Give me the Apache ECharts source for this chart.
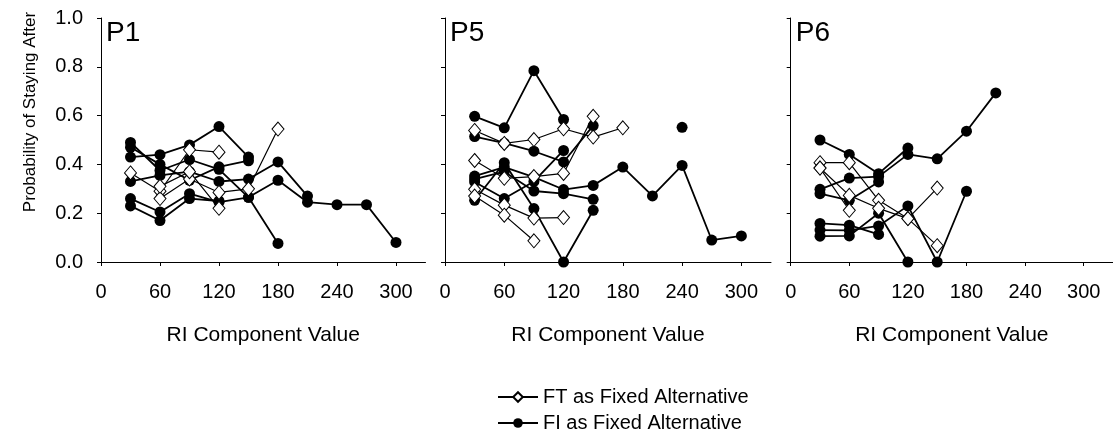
<!DOCTYPE html>
<html>
<head>
<meta charset="utf-8">
<title>Probability of Staying After</title>
<script src="https://cdn.jsdelivr.net/npm/echarts@6/dist/echarts.min.js"></script>
<style>
  html, body { margin: 0; padding: 0; background: #fff; }
  #main { width: 1113px; height: 437px; }
</style>
</head>
<body>
<div id="main"></div>
<script>
// tick labels
var xTicks = [0, 60, 120, 180, 240, 300];
var panelNames = ['P1', 'P5', 'P6'];

// P1 — FT (open diamonds) and FI (filled circles), each row is [RI value, probability]
var p1FT = [
  [[30, 0.365], [60, 0.29], [90, 0.46], [120, 0.45]],
  [[60, 0.26], [90, 0.34], [120, 0.285], [150, 0.30], [180, 0.545]],
  [[60, 0.31], [90, 0.37], [120, 0.22]]
];
var p1FI = [
  [[30, 0.43], [60, 0.44], [90, 0.48], [120, 0.555], [150, 0.43]],
  [[30, 0.49], [60, 0.375], [90, 0.42], [120, 0.38], [150, 0.265], [180, 0.076]],
  [[30, 0.47], [60, 0.40], [90, 0.335], [120, 0.39], [150, 0.415]],
  [[30, 0.33], [60, 0.355], [90, 0.37], [120, 0.33], [150, 0.34], [180, 0.41], [210, 0.27]],
  [[30, 0.26], [60, 0.205], [90, 0.28], [120, 0.245], [150, 0.265], [180, 0.335], [210, 0.245], [240, 0.235], [270, 0.235], [300, 0.08]],
  [[30, 0.23], [60, 0.17], [90, 0.26], [120, 0.25]]
];

// P5
var p5FT = [
  [[30, 0.539], [60, 0.486], [90, 0.502], [120, 0.546], [150, 0.512], [180, 0.55]],
  [[30, 0.416], [60, 0.343], [90, 0.35], [120, 0.363], [150, 0.597]],
  [[30, 0.298], [60, 0.233], [90, 0.18], [120, 0.182]],
  [[30, 0.27], [60, 0.192], [90, 0.087]]
];
var p5FI = [
  [[30, 0.597], [60, 0.55], [90, 0.784], [120, 0.584]],
  [[30, 0.514], [60, 0.487], [90, 0.454], [120, 0.41], [150, 0.559]],
  [[30, 0.352], [60, 0.389], [90, 0.348], [120, 0.297], [150, 0.314], [180, 0.389], [210, 0.271], [240, 0.396], [270, 0.09], [300, 0.107]],
  [[30, 0.328], [60, 0.26], [90, 0.33], [120, 0.457]],
  [[30, 0.253], [60, 0.407], [90, 0.219], [120, 0.0], [150, 0.212]],
  [[30, 0.34], [60, 0.37], [90, 0.291], [120, 0.28], [150, 0.257]],
  [[240, 0.552]]
];

// P6
var p6FT = [
  [[30, 0.407], [60, 0.407], [90, 0.253], [120, 0.178], [150, 0.067]],
  [[30, 0.385], [60, 0.273], [90, 0.22], [120, 0.178], [150, 0.303]],
  [[30, 0.385], [60, 0.212]]
];
var p6FI = [
  [[30, 0.5], [60, 0.441], [90, 0.362], [120, 0.467]],
  [[30, 0.298], [60, 0.344], [90, 0.35], [120, 0.441], [150, 0.423], [180, 0.536], [210, 0.693]],
  [[30, 0.28], [60, 0.253], [90, 0.328]],
  [[30, 0.131], [60, 0.13], [90, 0.148], [120, 0.23], [150, 0.0], [180, 0.29]],
  [[30, 0.106], [60, 0.107], [90, 0.2], [120, 0.0]],
  [[30, 0.158], [60, 0.151], [90, 0.113]]
];

var FT_NAME = 'FT as Fixed Alternative';
var FI_NAME = 'FI as Fixed Alternative';
var font = 'Liberation Sans, Arial, sans-serif';

var myChart = echarts.init(document.getElementById('main'), null, { renderer: 'canvas' });

var panels = [[p1FT, p1FI], [p5FT, p5FI], [p6FT, p6FI]];
var series = [];
panels.forEach(function (p, i) {
  p[0].forEach(function (d) {
    series.push({
      name: FT_NAME, type: 'line', xAxisIndex: i, yAxisIndex: i, data: d,
      symbol: 'diamond', symbolSize: [12, 14], z: 3,
      lineStyle: { color: '#000', width: 1.2 },
      itemStyle: { color: '#fff', borderColor: '#000', borderWidth: 1 }
    });
  });
  p[1].forEach(function (d) {
    series.push({
      name: FI_NAME, type: 'line', xAxisIndex: i, yAxisIndex: i, data: d,
      symbol: 'circle', symbolSize: 11, z: 2,
      lineStyle: { color: '#000', width: 1.8 },
      itemStyle: { color: '#000', borderColor: '#000', borderWidth: 0 }
    });
  });
});

var grids = [
  { left: 101, top: 18, width: 324.5, height: 244 },
  { left: 445, top: 18, width: 326, height: 244 },
  { left: 790.7, top: 18, width: 326, height: 244 }
];

var xAxes = grids.map(function (g, i) {
  return {
    type: 'value', gridIndex: i, min: 0, max: 330,
    name: 'RI Component Value', nameLocation: 'middle', nameGap: 63,
    nameTextStyle: { color: '#000', fontSize: 21, fontFamily: font },
    axisLine: { lineStyle: { color: '#000', width: 1 } },
    axisTick: { show: true, length: 4, customValues: xTicks, lineStyle: { color: '#000' } },
    axisLabel: { customValues: xTicks, color: '#000', fontSize: 20, fontFamily: font, margin: 20 },
    splitLine: { show: false }
  };
});

var yAxes = grids.map(function (g, i) {
  return {
    type: 'value', gridIndex: i, min: 0, max: 1, interval: 0.2,
    name: i === 0 ? 'Probability of Staying After' : '',
    nameLocation: 'middle', nameGap: 62,
    nameTextStyle: { color: '#000', fontSize: 17, fontFamily: font, padding: [0, 0, 0, 56] },
    axisLine: { show: true, lineStyle: { color: '#000', width: 1 } },
    axisTick: { show: true, length: 4, lineStyle: { color: '#000' } },
    axisLabel: {
      show: i === 0, color: '#000', fontSize: 20, fontFamily: font, margin: 18,
      formatter: function (v) { return v.toFixed(1); }
    },
    splitLine: { show: false }
  };
});

var titles = panelNames.map(function (t, i) {
  return {
    text: t, left: grids[i].left + 5, top: 19, padding: 0,
    textStyle: { color: '#000', fontSize: 28, fontWeight: 'normal', fontFamily: font }
  };
});

myChart.setOption({
  animation: false,
  backgroundColor: '#fff',
  title: titles,
  legend: {
    data: [FT_NAME, FI_NAME], orient: 'vertical', left: 497, top: 387, padding: 0,
    height: 60, itemWidth: 40, itemHeight: 12, itemGap: 6, selectedMode: false,
    textStyle: { color: '#000', fontSize: 20, fontFamily: font }
  },
  grid: grids,
  xAxis: xAxes,
  yAxis: yAxes,
  series: series
});
</script>
</body>
</html>
